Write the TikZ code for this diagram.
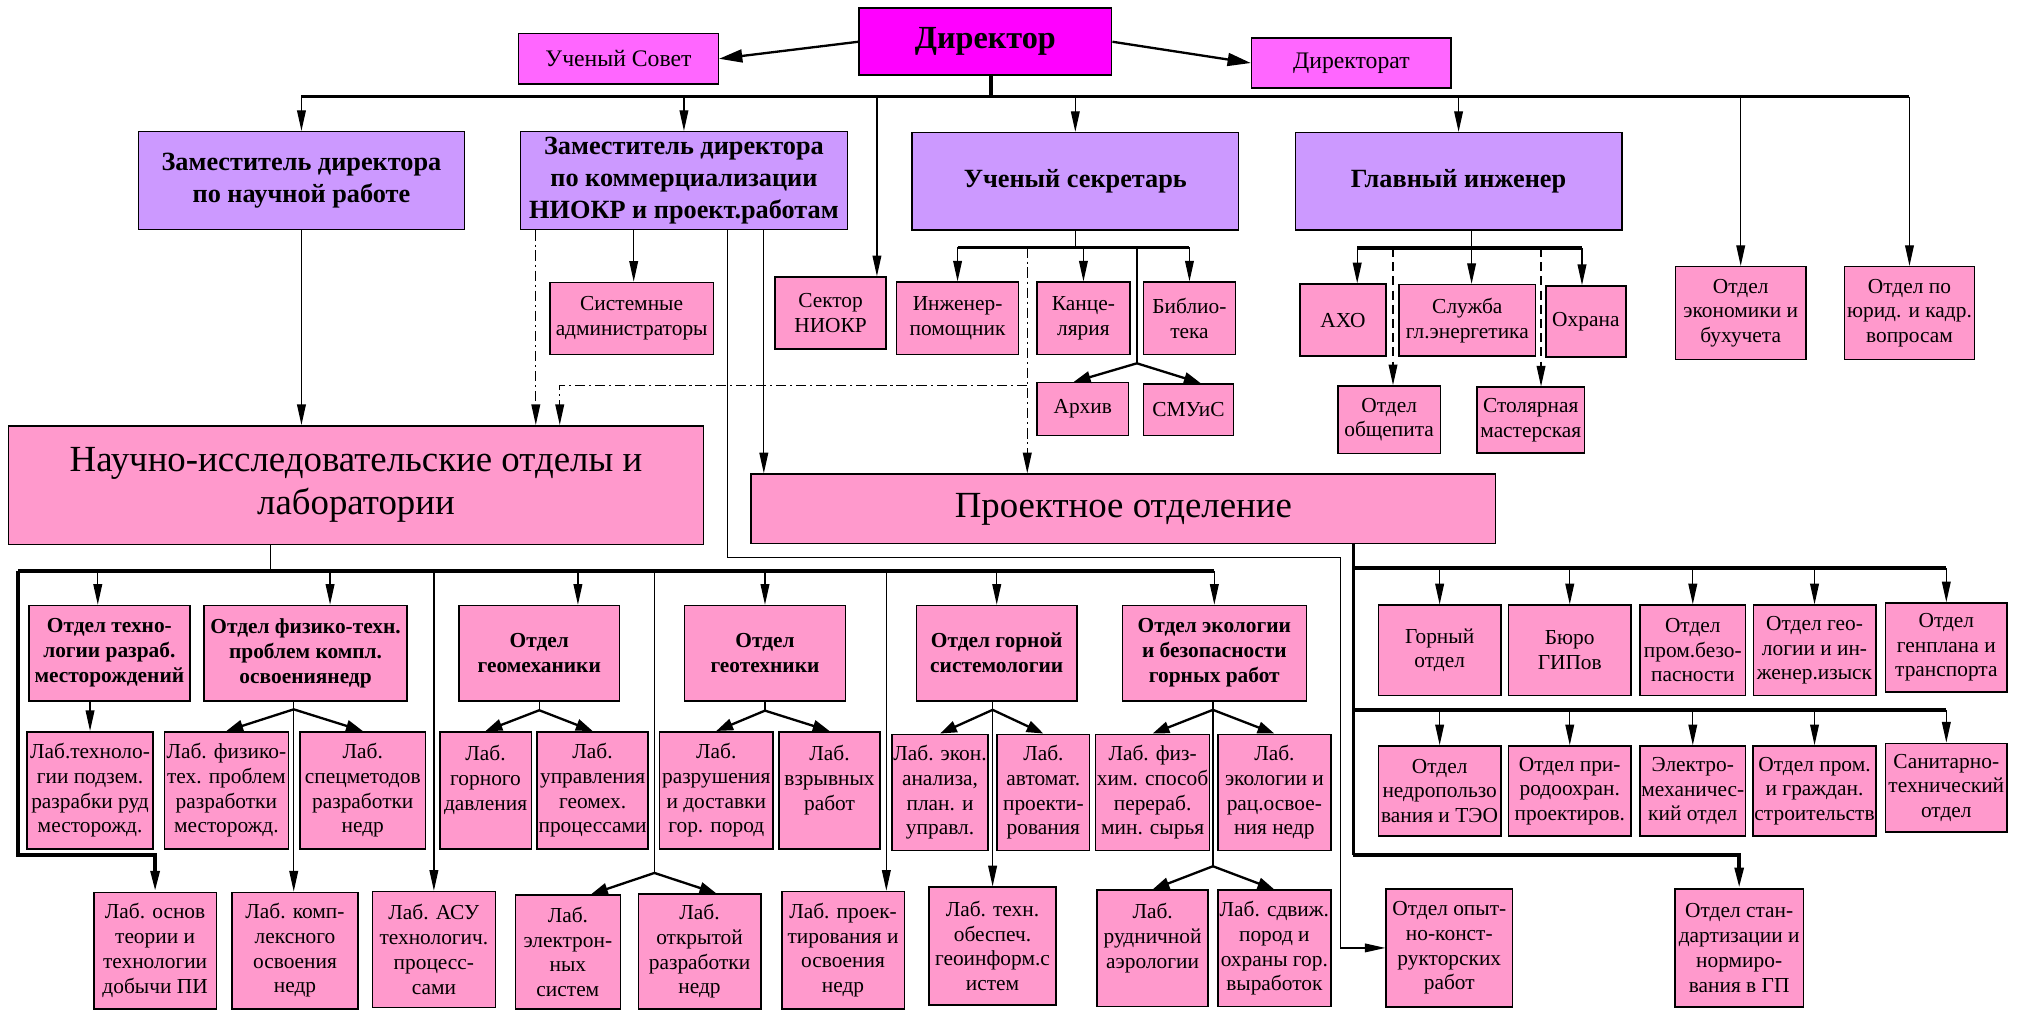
\documentclass[tikz,border=0pt]{standalone}
\usepackage{fontspec}
\setmainfont{Liberation Serif}
\usepackage{tikz}
\usetikzlibrary{calc}
\usetikzlibrary{arrows.meta}

\definecolor{dirmag}{RGB}{255,0,255}
\definecolor{toppink}{RGB}{255,102,255}
\definecolor{lilac}{RGB}{204,153,255}
\definecolor{rosa}{RGB}{255,153,204}

\tikzset{box/.style={draw, line width=0.6pt, inner sep=0.5pt, align=center}}
\tikzset{wh/.style 2 args={minimum width=#1*0.5pt, minimum height=#2*0.5pt}}
\tikzset{chief/.style={box, fill=dirmag, font=\fontsize{12.5}{14}\selectfont\bfseries}}
\tikzset{council/.style={box, fill=toppink, font=\fontsize{9.2}{11}\selectfont}}
\tikzset{deputy/.style={box, fill=lilac, font=\fontsize{10.2}{12.4}\selectfont\bfseries}}
\tikzset{lab/.style={box, fill=rosa, font=\fontsize{8.3}{9.6}\selectfont}}
\tikzset{dept/.style={box, fill=rosa, font=\fontsize{8.3}{9.7}\selectfont\bfseries}}
\tikzset{bigbox/.style={box, fill=rosa, font=\fontsize{14.3}{16.5}\selectfont}}
\tikzset{tip/.style={-{Triangle[length=8pt,width=3.4pt]}}}
\tikzset{arr/.style={tip, line width=0.5pt}}
\tikzset{fork/.style={-{Triangle[length=6.5pt,width=4.5pt]}, line width=0.9pt}}
\tikzset{bigarr/.style={-{Triangle[length=9pt,width=5pt]}, line width=0.9pt}}
\tikzset{bus/.style={line width=1.4pt}}
\tikzset{link/.style={line width=0.5pt}}
\tikzset{chain/.style={dash pattern=on 4pt off 1.5pt on 0.8pt off 1.5pt}}
\tikzset{dashline/.style={dash pattern=on 3.5pt off 2pt}}

\begin{document}
\begin{tikzpicture}[x={(0.5pt,0)}, y={(0,-0.5pt)}]
\useasboundingbox (0,0) rectangle (1568,784);

% top
\node[chief, wh={196}{52}] (dir) at (764.9,32.4) {Директор};
\node[council, wh={155}{39}] (sovet) at (480.1,45.6) {Ученый Совет};
\node[council, wh={155}{39}] (dirat) at (1049,48.9) {Директорат};

\node[deputy, wh={253}{76}] (zam1) at (234,140.2) {Заместитель директора\\по научной работе};
\node[deputy, wh={254}{76}] (zam2) at (530.9,140.2) {Заместитель директора\\по коммерциализации\\НИОКР и проект.работам};
\node[deputy, wh={253.5}{75.5}] (sekr) at (834.7,140.7) {Ученый секретарь};
\node[deputy, wh={253.5}{75.5}] (ingen) at (1132.2,140.7) {Главный инженер};

\node[lab, wh={127}{56}] (sysadm) at (490.3,247.2) {Системные\\администраторы};
\node[lab, wh={86}{56}] (niokr) at (644.7,243) {Сектор\\НИОКР};
\node[lab, wh={94.5}{56}] (ingpom) at (743.3,247) {Инженер-\\помощник};
\node[lab, wh={72}{56}] (kanc) at (841,247) {Канце-\\лярия};
\node[lab, wh={71.5}{56}] (bibl) at (923.3,247) {Библио-\\тека};
\node[lab, wh={71}{41}] (arch) at (840.5,317.5) {Архив};
\node[lab, wh={70}{40}] (smuis) at (922.5,318) {СМУиС};
\node[lab, wh={67}{56}] (axo) at (1042.5,248.5) {АХО};
\node[lab, wh={106}{55.5}] (sluzhba) at (1139,248.7) {Служба\\гл.энергетика};
\node[lab, wh={62}{55}] (ohrana) at (1231,249.4) {Охрана};
\node[lab, wh={79.4}{52.3}] (obshch) at (1078.3,325.7) {Отдел\\общепита};
\node[lab, wh={83.3}{51.2}] (stol) at (1188.2,326.2) {Столярная\\мастерская};
\node[lab, wh={101}{72}] (econ) at (1351.2,243) {Отдел\\экономики и\\бухучета};
\node[lab, wh={101}{72}] (jur) at (1482.2,243) {Отдел по\\юрид. и кадр.\\вопросам};

\node[bigbox, wh={539.5}{92}] (nio) at (276.3,376.5) {Научно-исследовательские отделы и\\лаборатории};
\node[bigbox, wh={578}{54}] (proj) at (872,395) {Проектное отделение};

% research departments
\node[dept, wh={124.8}{74}] (tehno) at (84.9,507) {Отдел техно-\\логии разраб.\\месторождений};
\node[dept, wh={157.6}{74}] (fiz) at (237.2,507) {Отдел физико-техн.\\проблем компл.\\освоениянедр};
\node[dept, wh={124.8}{74}] (geomeh) at (418.6,507) {Отдел\\геомеханики};
\node[dept, wh={125}{74}] (geoteh) at (593.8,507) {Отдел\\геотехники};
\node[dept, wh={124.6}{74}] (gorn) at (773.7,507) {Отдел горной\\системологии};
\node[dept, wh={142.8}{74}] (ekol) at (942.6,507) {Отдел экологии\\и безопасности\\горных работ};

\node[lab, wh={98}{91}] (labteh) at (69.9,613.5) {Лаб.техноло-\\гии подзем.\\разрабки руд\\месторожд.};
\node[lab, wh={96.3}{91}] (labfiz) at (175.7,613.5) {Лаб. физико-\\тех. проблем\\разработки\\месторожд.};
\node[lab, wh={97.3}{91}] (labspec) at (281.6,613.5) {Лаб.\\спецметодов\\разработки\\недр};
\node[lab, wh={71}{91}] (labgorn) at (376.9,613.5) {Лаб.\\горного\\давления\\~};
\node[lab, wh={86.2}{91}] (labupr) at (460,613.5) {Лаб.\\управления\\геомех.\\процессами};
\node[lab, wh={88}{91}] (labrazr) at (556,613.5) {Лаб.\\разрушения\\и доставки\\гор. пород};
\node[lab, wh={78.3}{91}] (labvzr) at (643.9,613.5) {Лаб.\\взрывных\\работ\\~};
\node[lab, wh={74.6}{90}] (labekon) at (729.7,615) {Лаб. экон.\\анализа,\\план. и\\управл.};
\node[lab, wh={71.8}{90}] (labavt) at (809.9,615) {Лаб.\\автомат.\\проекти-\\рования};
\node[lab, wh={86}{90}] (labfh) at (894.7,615) {Лаб. физ-\\хим. способ\\перераб.\\мин. сырья};
\node[lab, wh={87.7}{90}] (labekol) at (989.2,615) {Лаб.\\экологии и\\рац.освое-\\ния недр};

\node[lab, wh={95.2}{90.4}] (labosn) at (120.4,737.8) {Лаб. основ\\теории и\\технологии\\добычи ПИ};
\node[lab, wh={98}{90.4}] (labkompl) at (229,737.8) {Лаб. комп-\\лексного\\освоения\\недр};
\node[lab, wh={95.6}{90}] (labasu) at (336.8,737) {Лаб. АСУ\\технологич.\\процесс-\\сами};
\node[lab, wh={81.6}{88.3}] (label) at (440.8,738.9) {Лаб.\\электрон-\\ных\\систем};
\node[lab, wh={95}{89}] (labotkr) at (543,738.5) {Лаб.\\открытой\\разработки\\недр};
\node[lab, wh={95.2}{91}] (labproekt) at (654.4,737.5) {Лаб. проек-\\тирования и\\освоения\\недр};
\node[lab, wh={98.7}{91.4}] (labtob) at (770.4,734.3) {Лаб. техн.\\обеспеч.\\геоинформ.с\\истем};
\node[lab, wh={86}{90.4}] (labrudn) at (894.7,736.2) {Лаб.\\рудничной\\аэрологии\\~};
\node[lab, wh={87.7}{90.4}] (labsdv) at (989.2,736.2) {Лаб. сдвиж.\\пород и\\охраны гор.\\выработок};

% design departments
\node[lab, wh={95}{70}] (p11) at (1117.5,504.7) {Горный\\отдел};
\node[lab, wh={95}{70}] (p12) at (1218.5,504.7) {Бюро\\ГИПов};
\node[lab, wh={82}{70}] (p13) at (1314,504.7) {Отдел\\пром.безо-\\пасности};
\node[lab, wh={95}{70}] (p14) at (1408.5,504.7) {Отдел гео-\\логии и ин-\\женер.изыск};
\node[lab, wh={94.4}{69}] (p15) at (1510.8,502.5) {Отдел\\генплана и\\транспорта};
\node[lab, wh={95}{70}] (p21) at (1117.5,614) {Отдел\\недропользо\\вания и ТЭО};
\node[lab, wh={95}{70}] (p22) at (1218.5,614) {Отдел при-\\родоохран.\\проектиров.};
\node[lab, wh={82}{70}] (p23) at (1314,614) {Электро-\\механичес-\\кий отдел};
\node[lab, wh={95}{70}] (p24) at (1408.5,614) {Отдел пром.\\и граждан.\\строительств};
\node[lab, wh={94.4}{69}] (p25) at (1510.8,611.5) {Санитарно-\\технический\\отдел};
\node[lab, wh={98}{91.6}] (opyt) at (1125,735.8) {Отдел опыт-\\но-конст-\\рукторских\\работ};
\node[lab, wh={100}{91.6}] (standart) at (1350,735.8) {Отдел стан-\\дартизации и\\нормиро-\\вания в ГП};

% director
\coordinate (tb) at (769.4,75);
\draw[bus] (dir.south -| tb) -- (tb);
\draw[bus] (zam1 |- tb) -- (jur |- tb);
\foreach \n in {zam1,zam2,sekr,ingen,econ,jur}
	\draw[arr] (\n |- tb) -- (\n);
\coordinate (nk) at ($(niokr.north)+(36,0)$);
\draw[arr] (nk |- tb) -- (nk);
\draw[bigarr] (dir.west) -- (sovet.east);
\draw[bigarr] (dir.east) -- (dirat.west);

% deputies
\draw[arr] (zam1) -- (zam1 |- nio.north);
\coordinate (za) at ($(zam2.south)+(-115,0)$);
\coordinate (zb) at ($(zam2.south)+(-39,0)$);
\coordinate (zc) at ($(zam2.south)+(34,0)$);
\coordinate (zd) at ($(zam2.south)+(62,0)$);
\draw[arr, chain] (za) -- (za |- nio.north);
\draw[arr] (zb) -- (zb |- sysadm.north);
\draw[arr] (zd) -- (zd |- proj.north);
\coordinate (kc) at (1040.6,433);
\draw[arr] (zc) |- (kc) |- (opyt);

% secretary
\coordinate (sb) at (834.7,192);
\draw[link] (sekr) -- (sb);
\draw[bus] (ingpom |- sb) -- (bibl |- sb);
\foreach \n in {ingpom,kanc,bibl}
	\draw[arr] (\n |- sb) -- (\n);
\coordinate (sd) at (797.4,192);
\draw[arr, chain] (sd) -- (sd |- proj.north);
\coordinate (sh) at (797.4,299);
\coordinate (sn) at (434.5,299);
\draw[arr, chain] (sh) -- (sn) -- (sn |- nio.north);
\coordinate (sf) at (882.5,282);
\draw[link] (sf |- sb) -- (sf);
\draw[fork] (sf) -- ($(arch.north)+(-7,0)$);
\draw[fork] (sf) -- ($(smuis.north)+(9.5,0)$);

% chief engineer
\coordinate (eb) at (1142.3,192.6);
\draw[link] (ingen.south -| eb) -- (eb);
\coordinate (ea) at ($(axo.north)+(11,0)$);
\coordinate (eo) at ($(ohrana.north)+(-3,0)$);
\draw[bus] (ea |- eb) -- (eo |- eb);
\draw[arr] (ea |- eb) -- (ea);
\draw[arr] (eb) -- (eb |- sluzhba.north);
\draw[arr] (eo |- eb) -- (eo);
\coordinate (eq) at ($(obshch.north)+(3,0)$);
\coordinate (es) at ($(stol.north)+(8,0)$);
\draw[arr, dashline] (eq |- eb) -- (eq);
\draw[arr, dashline] (es |- eb) -- (es);

% research
\coordinate (nb) at (210,443);
\draw[link] (nio.south -| nb) -- (nb);
\coordinate (nl) at (13.9,443);
\coordinate (nc) at (13.9,663.7);
\draw[bus] (nl) -- (ekol |- nl);
\draw[bus, tip] (nl) -- (nc) -| (labosn);
\coordinate (dt) at ($(tehno.north)+(-9,0)$);
\coordinate (df) at ($(fiz.north)+(19,0)$);
\coordinate (dg) at ($(geomeh.north)+(30,0)$);
\foreach \c in {dt,df,dg}
	\draw[arr] (\c |- nl) -- (\c);
\foreach \n in {geoteh,gorn,ekol}
	\draw[arr] (\n |- nl) -- (\n);
\draw[arr] (labasu |- nl) -- (labasu);
\coordinate (ne) at (508,677.6);
\draw[link] (ne |- nl) -- (ne);
\draw[fork] (ne) -- ($(label.north)+(18,0)$);
\draw[fork] (ne) -- ($(labotkr.north)+(13,0)$);
\coordinate (np) at ($(labproekt.north)+(33.6,0)$);
\draw[arr] (np |- nl) -- (np);

\draw[arr] (tehno.south -| labteh) -- (labteh);
\coordinate (fs) at (228,550.6);
\draw[link] (fiz.south -| fs) -- (fs);
\draw[fork] (fs) -- (labfiz.north);
\draw[fork] (fs) -- (labspec.north);
\draw[arr] (fs) -- (fs |- labkompl.north);
\coordinate (gs) at ($(geomeh.south)+(0,6.7)$);
\draw[link] (geomeh.south) -- (gs);
\draw[fork] (gs) -- (labgorn.north);
\draw[fork] (gs) -- (labupr.north);
\coordinate (ts) at ($(geoteh.south)+(0,7)$);
\draw[link] (geoteh.south) -- (ts);
\draw[fork] (ts) -- (labrazr.north);
\draw[fork] (ts) -- (labvzr.north);
\coordinate (os) at (770.5,551);
\draw[link] (gorn.south -| os) -- (os);
\draw[fork] (os) -- (labekon.north);
\draw[fork] (os) -- (labavt.north);
\draw[arr] (os) -- (os |- labtob.north);
\coordinate (xs) at (941.5,551);
\coordinate (xt) at (941.5,672.4);
\draw[link] (ekol.south -| xs) -- (xs) -- (xt);
\draw[fork] (xs) -- (labfh.north);
\draw[fork] (xs) -- (labekol.north);
\draw[fork] (xt) -- (labrudn.north);
\draw[fork] (xt) -- (labsdv.north);

% design
\coordinate (ps) at (1050.5,663.7);
\coordinate (pa) at (1050.5,441);
\coordinate (pb) at (1050.5,551);
\draw[bus] (proj.south -| ps) -- (ps);
\draw[bus, tip] (ps) -| (standart);
\draw[bus] (pa) -- (pa -| p15);
\draw[bus] (pb) -- (pb -| p25);
\foreach \n in {p11,p12,p13,p14,p15}
	\draw[arr] (pa -| \n) -- (\n);
\foreach \n in {p21,p22,p23,p24,p25}
	\draw[arr] (pb -| \n) -- (\n);

\end{tikzpicture}
\end{document}
